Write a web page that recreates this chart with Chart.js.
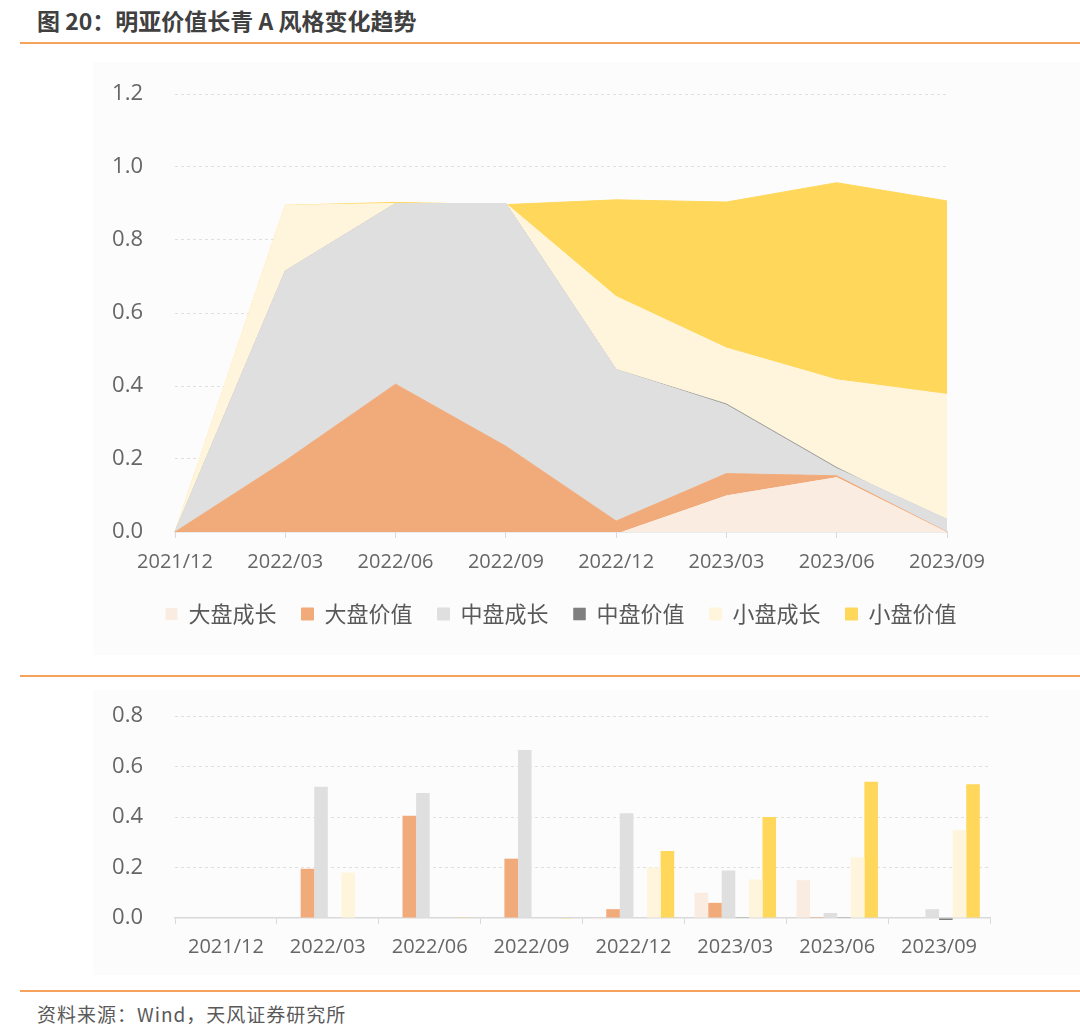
<!DOCTYPE html>
<html><head><meta charset="utf-8">
<script src="https://cdn.jsdelivr.net/npm/chart.js@4.4.0/dist/chart.umd.min.js"></script>
<style>
html,body{margin:0;padding:0;background:#fff;width:1080px;height:1030px;overflow:hidden;font-family:'Noto Sans CJK SC','Open Sans',sans-serif;}
#title{position:absolute;left:37px;top:4px;font-size:23px;font-weight:bold;color:#404040;white-space:nowrap;line-height:32px;}
.rule{position:absolute;left:20px;width:1060px;height:2px;background:#F5A25D;}
.panel{position:absolute;background:#FCFCFC;}
#w1{position:absolute;left:0;top:60px;width:1122px;height:600px;}
#w2{position:absolute;left:0;top:680px;width:1080px;height:305px;}
#src{position:absolute;left:37px;top:1001px;font-size:19px;letter-spacing:1px;color:#595959;white-space:nowrap;line-height:26px;}
</style></head>
<body>
<div id="title">图 20：明亚价值长青 A 风格变化趋势</div>
<div class="rule" style="top:42px"></div>
<div class="panel" style="left:93px;top:62px;width:987px;height:593px"></div>
<div class="rule" style="top:675px"></div>
<div class="panel" style="left:93px;top:690px;width:987px;height:285px"></div>
<div class="rule" style="top:990px"></div>
<div id="src">资料来源：Wind，天风证券研究所</div>
<div id="w1"><canvas id="c1" width="1122" height="600"></canvas></div>
<div id="w2"><canvas id="c2" width="1080" height="305"></canvas></div>
<script>
const categories = ['2021/12','2022/03','2022/06','2022/09','2022/12','2023/03','2023/06','2023/09'];
const seriesNames = ['大盘成长','大盘价值','中盘成长','中盘价值','小盘成长','小盘价值'];
const largeGrowth = [0, 0, 0, 0, -0.005, 0.10, 0.15, 0.0];
const largeValue  = [0, 0.195, 0.405, 0.235, 0.035, 0.06, 0.004, 0];
const midGrowth   = [0, 0.52, 0.495, 0.665, 0.415, 0.188, 0.02, 0.035];
const midValue    = [0, 0, 0, 0, 0, 0.003, 0.003, -0.008];
const smallGrowth = [0, 0.18, 0, 0, 0.20, 0.153, 0.24, 0.35];
const smallValue  = [0, 0, 0.003, -0.003, 0.265, 0.40, 0.54, 0.53];
const yTicksTop = [0, 0.2, 0.4, 0.6, 0.8, 1.0, 1.2];
const yTicksBottom = [0, 0.2, 0.4, 0.6, 0.8];

const seriesValues = [largeGrowth, largeValue, midGrowth, midValue, smallGrowth, smallValue];
const seriesColors = ['#FBECE2', '#F1AB7B', '#DFDFDF', '#7F7F7F', '#FFF5DC', '#FFD75B'];
const areaBorders = ['rgba(0,0,0,0)', '#F1AB7B', '#DFDFDF', 'rgba(127,127,127,0.55)', '#FFF5DC', '#FFD75B'];

const tickColor = '#666666';
const numFont = "'Open Sans', 'Noto Sans CJK SC', sans-serif";
const gridColor = (c) => (c.tick && c.tick.value === 0) ? 'rgba(0,0,0,0)' : '#E0E0E0';

function yAxis(min, max, tickList) {
  return {
    min: min, max: max,
    afterBuildTicks: (s) => { s.ticks = tickList.map(v => ({ value: v })); },
    grid: { color: gridColor, drawTicks: true, tickLength: 26, tickColor: 'rgba(0,0,0,0)', lineWidth: 1 },
    border: { display: false, dash: [3, 3] },
    ticks: { color: tickColor, font: { size: 22, family: numFont }, padding: 6, callback: (v) => Number(v).toFixed(1) },
    afterFit: (s) => { s.width = 175; }
  };
}

const topY = yAxis(0, 1.2, yTicksTop);
topY.stacked = 'single';

new Chart(document.getElementById('c1'), {
  type: 'line',
  data: {
    labels: categories,
    datasets: seriesValues.map((v, i) => ({
      label: seriesNames[i], data: v,
      backgroundColor: seriesColors[i], borderColor: areaBorders[i], borderWidth: 1,
      fill: i === 0 ? 'origin' : '-1', pointRadius: 0, tension: 0, clip: false
    }))
  },
  options: {
    responsive: false, animation: false,
    layout: { padding: { left: 0, right: 0, top: 34, bottom: 25 } },
    plugins: {
      legend: {
        position: 'bottom',
        labels: { boxWidth: 12, boxHeight: 12, padding: 25, color: '#595959',
          font: { size: 22, family: "'Noto Sans CJK SC', sans-serif" } }
      },
      tooltip: { enabled: false }
    },
    scales: {
      x: {
        offset: false,
        grid: { drawOnChartArea: false, drawTicks: true, tickLength: 6, color: '#D9D9D9' },
        border: { color: '#D9D9D9', width: 1.5 },
        ticks: { color: tickColor, font: { size: 20, family: numFont }, padding: 12, maxRotation: 0, autoSkip: false },
        afterFit: (s) => { s.height = 46; }
      },
      y: topY,
      yBalance: {
        position: 'right', display: true,
        grid: { drawOnChartArea: false, drawTicks: false },
        border: { display: false },
        ticks: { display: false, padding: 0 },
        afterFit: (s) => { s.width = 175; }
      }
    }
  }
});

new Chart(document.getElementById('c2'), {
  type: 'bar',
  data: {
    labels: categories,
    datasets: seriesValues.map((v, i) => ({
      label: seriesNames[i], data: v,
      backgroundColor: seriesColors[i], borderWidth: 0,
      barPercentage: 1.0, categoryPercentage: 0.8, clip: false
    }))
  },
  options: {
    responsive: false, animation: false,
    layout: { padding: { left: 0, right: 90, top: 36, bottom: 0 } },
    plugins: { legend: { display: false }, tooltip: { enabled: false } },
    scales: {
      x: {
        grid: { drawOnChartArea: false, drawTicks: true, tickLength: 6, color: '#D9D9D9' },
        border: { color: '#D9D9D9', width: 1.5 },
        ticks: { color: tickColor, font: { size: 20, family: numFont }, padding: 11, maxRotation: 0, autoSkip: false },
        afterFit: (s) => { s.height = 67; }
      },
      y: yAxis(0, 0.8, yTicksBottom)
    }
  }
});
</script>
</body></html>
